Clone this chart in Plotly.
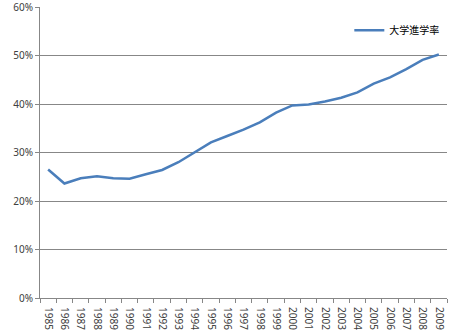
import plotly.graph_objects as go

years = [str(y) for y in range(1985, 2010)]
rates = [26.5, 23.6, 24.7, 25.1, 24.7, 24.6, 25.5, 26.4, 28.0, 30.1, 32.1, 33.4, 34.7,
         36.2, 38.2, 39.7, 39.9, 40.5, 41.3, 42.4, 44.2, 45.5, 47.2, 49.1, 50.2]
series_name = "大学進学率"
y_ticks = [0, 10, 20, 30, 40, 50, 60]

fig = go.Figure()
fig.add_trace(go.Scatter(x=years, y=rates, mode="lines", name=series_name,
                         line=dict(color="#4A7EBB", width=2.5)))

fig.update_layout(
    width=465, height=336,
    margin=dict(l=40, r=18, t=7, b=38, autoexpand=False),
    paper_bgcolor="white", plot_bgcolor="white",
    font=dict(family="Noto Sans, Noto Sans CJK JP", size=10, color="#404040"),
    showlegend=True,
    legend=dict(x=0.76, y=0.97, xanchor="left", yanchor="top",
                font=dict(family="Noto Sans CJK JP", size=10, color="#000000"),
                bgcolor="rgba(0,0,0,0)"),
)
fig.update_xaxes(type="category", range=[-0.5, 24.5], tickangle=90, tickson="boundaries",
                 ticks="outside", ticklen=4, tickcolor="#878787", ticklabelstandoff=6,
                 showline=True, linecolor="#878787", linewidth=1, showgrid=False,
                 tickfont=dict(size=10, color="#404040"))
fig.update_yaxes(range=[0, 60], tickvals=y_ticks, ticktext=[f"{v}%" for v in y_ticks],
                 ticks="outside", ticklen=4, ticklabeloverflow="allow",
                 tickcolor="#878787", showline=True, linecolor="#878787", linewidth=1,
                 showgrid=True, gridcolor="#878787", gridwidth=1, zeroline=False,
                 tickfont=dict(size=10, color="#404040"))

fig.write_html("out.html")
